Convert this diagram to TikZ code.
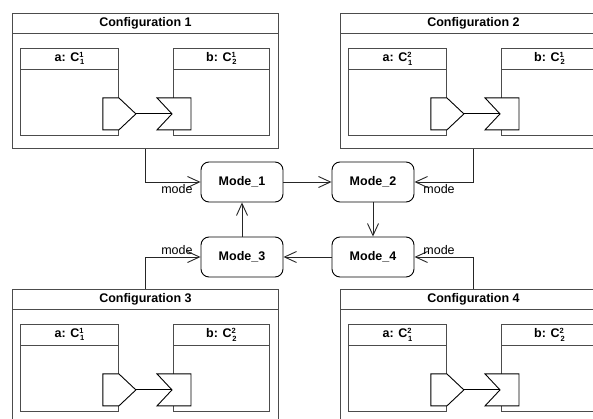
\documentclass[tikz,border=0pt]{standalone}
\usepackage{fontspec}
\setmainfont{Liberation Sans}
\usetikzlibrary{arrows.meta}
\usetikzlibrary{calc}
\newcommand{\cmpname}[2]{C\rlap{\raisebox{4.6pt}{\fontsize{7.5}{8}\selectfont #1}}\kern.8pt\raisebox{-3.2pt}{\fontsize{7.5}{8}\selectfont #2}}

\begin{document}
\begin{tikzpicture}[x=1pt, y=-1pt,
font=\fontsize{12.5}{15}\selectfont,
confbox/.style={draw=black!70, line width=.9pt, inner sep=0, anchor=north west, minimum width=266pt, minimum height=135pt},
partbox/.style={draw=black!70, line width=.9pt, inner sep=0, anchor=north west, minimum height=87pt},
sepline/.style={draw=black!70, line width=.9pt},
port/.style={draw=black, fill=white, line width=.9pt},
mode/.style={draw=black, line width=.9pt, rounded corners=8pt, minimum width=82pt, minimum height=40pt, inner sep=0, font=\fontsize{12.5}{15}\selectfont\bfseries},
cim/.style={font=\fontsize{12.5}{15}\selectfont\bfseries, inner sep=0},
felirat/.style={inner sep=1.5pt},
flow/.style={draw=black!85, line width=.9pt, -{Straight Barb[length=12pt, width=11pt, line width=.9pt]}}]
\useasboundingbox (0,0) rectangle (593,419);
\clip (0,0) rectangle (593,419);
%%%%%%%%%% CONFIGURATIONS %%%%%%%%%%%
\foreach \i/\dx/\dy/\sa/\sb in {1/0/0/1/1, 2/328/0/2/1, 3/0/276/1/2, 4/328/276/2/2} {
  \node[confbox] (conf\i) at (\dx+12,\dy+13) {};
  \draw[sepline] ($(conf\i.north west)+(0,20)$) -- ($(conf\i.north east)+(0,20)$);
  \node[cim] at ($(conf\i.north)+(0,10)$) {Configuration \i};
  \node[partbox, minimum width=98pt] (a\i) at (\dx+20,\dy+48) {};
  \draw[sepline] ($(a\i.north west)+(0,21)$) -- ($(a\i.north east)+(0,21)$);
  \node[cim] at ($(a\i.north)+(0,10.5)$) {a: \cmpname{\sa}{1}};
  \node[partbox, minimum width=96pt] (b\i) at (\dx+173,\dy+48) {};
  \draw[sepline] ($(b\i.north west)+(0,21)$) -- ($(b\i.north east)+(0,21)$);
  \node[cim] at ($(b\i.north)+(0,10.5)$) {b: \cmpname{\sb}{2}};
  % ports
  \draw[port] ($(a\i.south east)+(-16,-38)$) -- ++(16,0) -- ++(17,16) coordinate (out\i) -- ++(-17,16) -- ++(-16,0) -- cycle;
  \draw[port] ($(b\i.south west)+(-16,-38)$) -- ++(34,0) -- ++(0,32) -- ++(-34,0) -- ++(15,-16) coordinate (in\i) -- cycle;
  \draw[line width=.9pt] (out\i) -- (in\i);
}
%%%%%%%%%% MODES %%%%%%%%%%%
\node[mode] (m1) at (242,182) {Mode\_1};
\node[mode] (m2) at (373,182) {Mode\_2};
\node[mode] (m3) at (242,257) {Mode\_3};
\node[mode] (m4) at (373,257) {Mode\_4};
\draw[flow] (m1) -- (m2);
\draw[flow] (m2) -- (m4);
\draw[flow] (m4) -- (m3);
\draw[flow] (m3) -- (m1);
%%%%%%%%%% MODE SELECTION %%%%%%%%%%%
\draw[flow] (conf1.south) |- (m1.west) node[felirat, at end, anchor=north east, xshift=-6pt] {mode};
\draw[flow] (conf2.south) |- (m2.east) node[felirat, at end, anchor=north west, xshift=7pt] {mode};
\draw[flow] (conf3.north) |- (m3.west) node[felirat, at end, anchor=south east, xshift=-6pt] {mode};
\draw[flow] (conf4.north) |- (m4.east) node[felirat, at end, anchor=south west, xshift=7pt] {mode};
\end{tikzpicture}
\end{document}
